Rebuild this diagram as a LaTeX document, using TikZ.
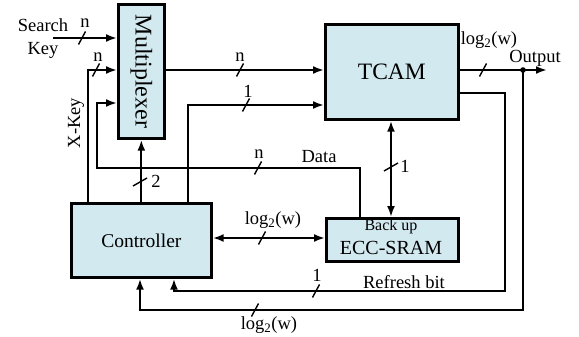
\documentclass[tikz,border=0pt]{standalone}
\usepackage{fontspec}
\setmainfont{Liberation Serif}
\usetikzlibrary{arrows.meta,calc}
\definecolor{boxfill}{RGB}{210,233,239}
\begin{document}
\begin{tikzpicture}[x=1pt,y=-1pt,
  blk/.style={draw,line width=2.7pt,fill=boxfill,inner sep=0pt,anchor=north west},
  wire/.style={line width=2.2pt},
  arr/.style={wire,-{Latex[length=11pt,width=8pt]}},
  darr/.style={wire,{Latex[length=11pt,width=8pt]}-{Latex[length=11pt,width=8pt]}},
  lbl/.style={font=\fontsize{18.5}{20}\selectfont,inner sep=0pt},
  hslash/.pic={\draw[line width=1.4pt] (-3.5,6.5) -- (3.5,-6.5);},
  vslash/.pic={\draw[line width=1.4pt] (-7,4) -- (7,-4);}
]
\useasboundingbox (0,0) rectangle (579,337);

% blocks
\node[blk, minimum width=46pt, minimum height=134pt] (mux) at (117,3) {};
\node[font=\fontsize{24}{26}\selectfont, rotate=-90, inner sep=0pt] (muxt) at (mux.center) {Multiplexer};
\node[blk, minimum width=133pt, minimum height=95pt] (tcam) at (324,23) {};
\node[font=\fontsize{23.5}{26}\selectfont, inner sep=0pt] (tcamt) at (tcam.center) {TCAM};
\node[blk, minimum width=140pt, minimum height=74pt] (ctrl) at (70,202) {};
\node[font=\fontsize{19.5}{22}\selectfont, inner sep=0pt] (ctrlt) at (ctrl.center) {Controller};
\node[blk, minimum width=132pt, minimum height=43pt] (sram) at (325,217) {};
\node[font=\fontsize{16}{18}\selectfont, inner sep=0pt] (sram1) at (391,227) {Back up};
\node[font=\fontsize{20}{22}\selectfont, inner sep=0pt] (sram2) at (391,248) {ECC-SRAM};

% coordinates
\coordinate (sk) at (53,38);
\coordinate (dot) at (523,70);
\coordinate (out) at (547,70);

% wires
\draw[arr] (sk) -- (sk -| mux.west);
\draw[arr] (ctrl.north -| 88,0) |- (mux.west |- 0,70);
\draw[arr] (sram.north -| 360,0) |- (97,168) |- (mux.west |- 0,103);
\draw[arr] (ctrl.north -| mux.south) -- (mux.south);
\draw[arr] (ctrl.north -| 188,0) |- (tcam.west |- 0,105);
\draw[arr] (mux.east |- 0,70) -- (tcam.west |- 0,70);
\draw[darr] (tcam.south -| 391,0) -- (sram.north -| 391,0);
\draw[darr] (ctrl.east |- 0,238) -- (sram.west |- 0,238);
\draw[arr] (tcam.east |- 0,70) -- (out);
\fill (dot) circle (2.8);
\draw[arr] (dot) |- (140,310) -- (ctrl.south -| 140,0);
\draw[arr] (tcam.east |- 0,93) -| (505,291) -| (ctrl.south -| 174,0);

% slashes
\pic at (82,38) {hslash};
\pic at (96,70) {hslash};
\pic at (240,70) {hslash};
\pic at (246,105) {hslash};
\pic at (258,168) {hslash};
\pic at (140,182) {vslash};
\pic at (391,167) {vslash};
\pic at (262,238) {hslash};
\pic at (483,70) {hslash};
\pic at (316,291) {hslash};
\pic at (255,310) {hslash};

% labels
\node[lbl] (lsearch) at (43,25) {Search};
\node[lbl] (lkey) at (43,50) {Key};
\node[lbl, rotate=90] (lxkey) at (76,123) {X-Key};
\node[lbl] (n1) at (85,23) {n};
\node[lbl] (n2) at (98,57) {n};
\node[lbl] (n3) at (240,57) {n};
\node[lbl] (o1) at (248,91) {1};
\node[lbl] (n4) at (259,154) {n};
\node[lbl] (ldata) at (319,157) {Data};
\node[lbl] (t2) at (156,181) {2};
\node[lbl] (o2) at (405,166) {1};
\node[lbl] (lw1) at (273,220) {log\textsubscript{2}(w)};
\node[lbl] (lw2) at (489,40) {log\textsubscript{2}(w)};
\node[lbl] (lout) at (535,58) {Output};
\node[lbl] (o3) at (317,275) {1};
\node[lbl] (lref) at (404,282) {Refresh bit};
\node[lbl] (lw3) at (269,325) {log\textsubscript{2}(w)};
\end{tikzpicture}
\end{document}
